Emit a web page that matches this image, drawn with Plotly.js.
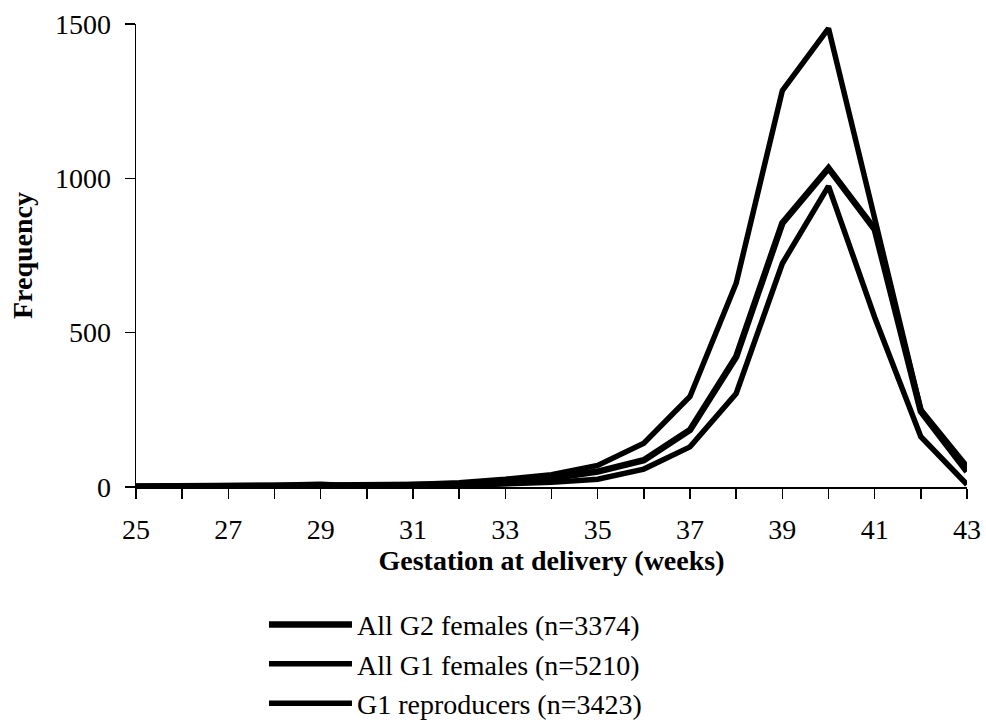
<!DOCTYPE html>
<html>
<head>
<meta charset="utf-8">
<script src="https://cdn.plot.ly/plotly-3.0.1.min.js"></script>
<style>
  html, body { margin: 0; padding: 0; background: #fff; }
  #chart { width: 986px; height: 726px; }
</style>
</head>
<body>
<div id="chart"></div>
<script>
// Gestation at delivery (weeks)
const weeks = [25, 26, 27, 28, 29, 30, 31, 32, 33, 34, 35, 36, 37, 38, 39, 40, 41, 42, 43];

// Series values (frequency)
const g2Females     = [1, 2, 2, 3, 5, 1, 4, 8, 14, 28, 50, 87, 185, 422, 855, 1033, 835, 245, 50];
const g1Females     = [3, 3, 4, 6, 9, 2, 8, 14, 25, 40, 70, 142, 293, 660, 1284, 1486, 870, 250, 66];
const g1Reproducers = [1, 1, 2, 2, 4, 0, 3, 5, 9, 15, 25, 58, 130, 303, 724, 975, 550, 163, 8];

const seriesNames = [
  "All G2 females (n=3374)",
  "All G1 females (n=5210)",
  "G1 reproducers (n=3423)"
];

const xTickVals = [25, 27, 29, 31, 33, 35, 37, 39, 41, 43];
const yTickVals = [0, 500, 1000, 1500];

const font = '"Liberation Serif", "Times New Roman", serif';

const traces = [
  { x: weeks, y: g2Females, name: seriesNames[0], type: 'scatter', mode: 'lines',
    line: { color: '#000', width: 6.5 } },
  { x: weeks, y: g1Females, name: seriesNames[1], type: 'scatter', mode: 'lines',
    line: { color: '#000', width: 5.5 } },
  { x: weeks, y: g1Reproducers, name: seriesNames[2], type: 'scatter', mode: 'lines',
    line: { color: '#000', width: 5.5 } }
];

const layout = {
  width: 986, height: 726,
  paper_bgcolor: '#fff', plot_bgcolor: '#fff',
  margin: { l: 136, r: 19, t: 24, b: 239, autoexpand: false },
  font: { family: font, size: 28, color: '#000' },
  showlegend: true,
  legend: {
    xref: 'paper', yref: 'container',
    x: 0.154, y: 0.174, xanchor: 'left', yanchor: 'top',
    traceorder: 'normal',
    font: { family: font, size: 28, color: '#000' },
    itemwidth: 83,
    bgcolor: 'rgba(0,0,0,0)'
  },
  xaxis: {
    range: [25, 43],
    tickvals: xTickVals,
    automargin: false,
    ticks: 'outside', ticklen: 10, tickwidth: 1.5, tickcolor: '#000',
    minor: { dtick: 1, tick0: 25, ticks: 'outside', ticklen: 10, tickwidth: 1.5, tickcolor: '#000', showgrid: false },
    ticklabelstandoff: 7,
    showline: true, linecolor: '#000', linewidth: 1.5,
    showgrid: false, zeroline: false,
    tickfont: { family: font, size: 28, color: '#000' },
    title: { text: '<b>Gestation at delivery (weeks)</b>', font: { family: font, size: 28, color: '#000' }, standoff: 0 }
  },
  yaxis: {
    range: [0, 1500],
    tickvals: yTickVals,
    automargin: false,
    ticks: 'outside', ticklen: 10, tickwidth: 1.5, tickcolor: '#000',
    ticklabelstandoff: 8,
    showline: true, linecolor: '#000', linewidth: 1.5,
    showgrid: false, zeroline: false,
    tickfont: { family: font, size: 28, color: '#000' },
    title: { text: '<b>Frequency</b>', font: { family: font, size: 28, color: '#000' }, standoff: 14 }
  }
};

Plotly.newPlot('chart', traces, layout, { displayModeBar: false, staticPlot: true });
</script>
</body>
</html>
